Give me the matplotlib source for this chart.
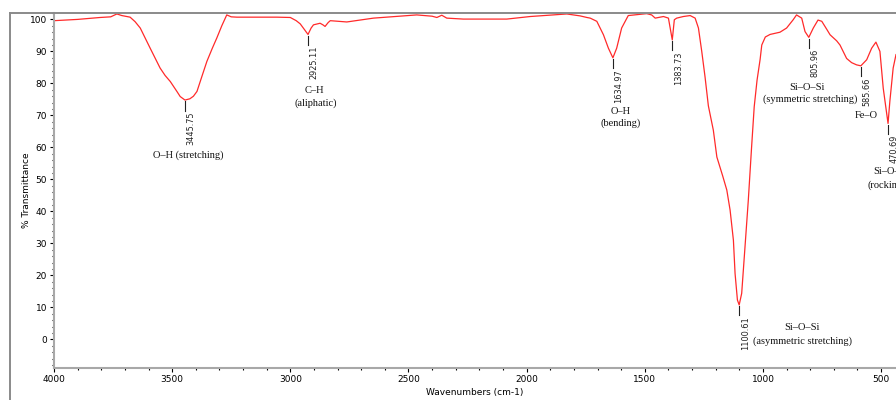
import matplotlib
matplotlib.use('Agg')
import matplotlib.pyplot as plt
from matplotlib.ticker import MultipleLocator
from matplotlib.lines import Line2D

# FTIR spectrum
wavenumber = [4000, 3900, 3805, 3760, 3734, 3713, 3678, 3657, 3635, 3593, 3551, 3530,
              3508, 3480, 3466, 3445.75, 3425, 3410, 3395, 3375, 3353, 3330, 3311, 3290,
              3269, 3250, 3226, 3057, 3000, 2975, 2958, 2940, 2925.11, 2912, 2902, 2874,
              2862, 2853, 2840, 2831, 2761, 2648, 2465, 2400, 2380, 2359, 2338, 2268,
              2084, 1985, 1830, 1774, 1745, 1731, 1703, 1675, 1654, 1634.97, 1619, 1598,
              1570, 1492, 1471, 1456, 1421, 1400, 1383.73, 1375, 1365, 1337, 1308, 1287,
              1273, 1259, 1245, 1231, 1210, 1195, 1170, 1153, 1139, 1125, 1118, 1108,
              1100.61, 1090, 1076, 1062, 1048, 1037, 1025, 1012, 1005, 990, 970, 940,
              928, 900, 872, 858, 836, 822, 805.96, 787, 767, 751, 730, 716, 688, 674,
              646, 625, 604, 585.66, 561, 540, 522, 505, 491, 470.69, 463, 449, 437]
transmittance = [99.6, 100.0, 100.6, 100.8, 101.7, 101.2, 100.7, 99.3, 97.3, 91.0, 84.8, 82.5,
                 80.6, 77.5, 75.9, 74.8, 75.2, 76.0, 77.5, 82.0, 86.9, 91.0, 94.2, 98.0,
                 101.4, 100.8, 100.7, 100.7, 100.6, 99.6, 98.6, 96.8, 95.3, 97.3, 98.3, 98.8,
                 98.3, 97.8, 99.0, 99.6, 99.2, 100.4, 101.4, 101.0, 100.6, 101.3, 100.4, 100.1,
                 100.1, 100.9, 101.7, 101.1, 100.6, 100.4, 99.4, 95.2, 91.0, 88.0, 91.0, 97.3,
                 101.2, 101.8, 101.4, 100.4, 100.9, 100.4, 93.6, 99.9, 100.4, 100.9, 101.2, 100.4,
                 97.3, 90.0, 82.0, 73.0, 65.4, 57.0, 51.0, 46.7, 40.4, 31.0, 20.6, 12.3,
                 10.8, 14.4, 28.9, 43.5, 60.2, 72.7, 81.0, 87.5, 92.0, 94.5, 95.3, 95.8,
                 96.0, 97.3, 99.9, 101.4, 100.4, 96.2, 94.4, 97.3, 99.8, 99.4, 96.9, 95.2, 93.3, 92.0,
                 87.8, 86.5, 85.8, 85.5, 87.4, 91.0, 92.9, 90.0, 78.5, 67.5, 74.4, 84.8, 89.0]

peak_wn = [3445.75, 2925.11, 1634.97, 1383.73, 1100.61, 805.96, 585.66, 470.69]
peak_t = [74.8, 95.3, 88.0, 93.6, 10.8, 94.4, 85.5, 67.5]
peak_text = ['3445.75', '2925.11', '1634.97', '1383.73', '1100.61', '805.96', '585.66', '470.69']

band_text = ['O\u2013H (stretching)', 'C\u2013H', '(aliphatic)', 'O\u2013H', '(bending)',
             'Si\u2013O\u2013Si', '(symmetric stretching)', 'Fe\u2013O',
             'Si\u2013O\u2013Si', '(rocking)', 'Si\u2013O\u2013Si', '(asymmetric stretching)']
band_wn = [3434, 2899, 2891, 1604, 1601, 814, 800, 561, 533, 559, 836, 831]
band_t = [57.6, 77.9, 73.8, 71.3, 67.6, 78.8, 75.1, 70.1, 52.4, 48.2, 3.6, -0.4]
band_ha = ['center', 'center', 'center', 'center', 'center', 'center', 'center', 'center',
           'left', 'left', 'center', 'center']

fig = plt.figure(figsize=(8.96, 4.0), dpi=100)
ax = fig.add_axes([54 / 896, 31.7 / 400, 842 / 896, 355.3 / 400])

ax.plot(wavenumber, transmittance, color='#ff2a2a', lw=0.9)
ax.set_xlim(4000, 437)
ax.set_ylim(-9, 102)

# peak markers and numbers
for wn, t, s in zip(peak_wn, peak_t, peak_text):
    ax.plot([wn, wn], [t - 0.4, t - 3.3], color='#222222', lw=0.8)
    ax.annotate(s, xy=(wn, t - 3.6), xytext=(1, 0), textcoords='offset points',
                rotation=90, ha='left', va='top', fontsize=5.9, family='DejaVu Sans',
                color='#222222', annotation_clip=False)

for s, wn, t, ha in zip(band_text, band_wn, band_t, band_ha):
    ax.text(wn, t, s, ha=ha, va='center', fontsize=7.5, family='Liberation Serif',
            color='#111111', clip_on=False)

ax.xaxis.set_major_locator(MultipleLocator(500))
ax.xaxis.set_minor_locator(MultipleLocator(100))
ax.yaxis.set_major_locator(MultipleLocator(10))
ax.yaxis.set_minor_locator(MultipleLocator(2))
ax.set_yticks(range(0, 101, 10))

ax.tick_params(which='major', direction='out', length=3, width=0.8, color='black',
               labelsize=6.5, pad=2)
ax.tick_params(which='minor', direction='out', length=1.5, width=0.8, color='black')

for side in ['top', 'right']:
    ax.spines[side].set_visible(False)
for side in ['left', 'bottom']:
    ax.spines[side].set_color('#a8a8a8')
    ax.spines[side].set_linewidth(1.5)

ax.set_xlabel('Wavenumbers (cm-1)', fontsize=6.5, labelpad=3)
ax.set_ylabel('% Transmittance', fontsize=6.5, labelpad=-1)

# outer panel frame
fig.add_artist(Line2D([9.5 / 896, 9.5 / 896], [0, 387.5 / 400], color='#8a8a8a', lw=1.4))
fig.add_artist(Line2D([9.5 / 896, 1], [387.5 / 400, 387.5 / 400], color='#8a8a8a', lw=1.4))

fig.savefig('out.png', dpi=100)
